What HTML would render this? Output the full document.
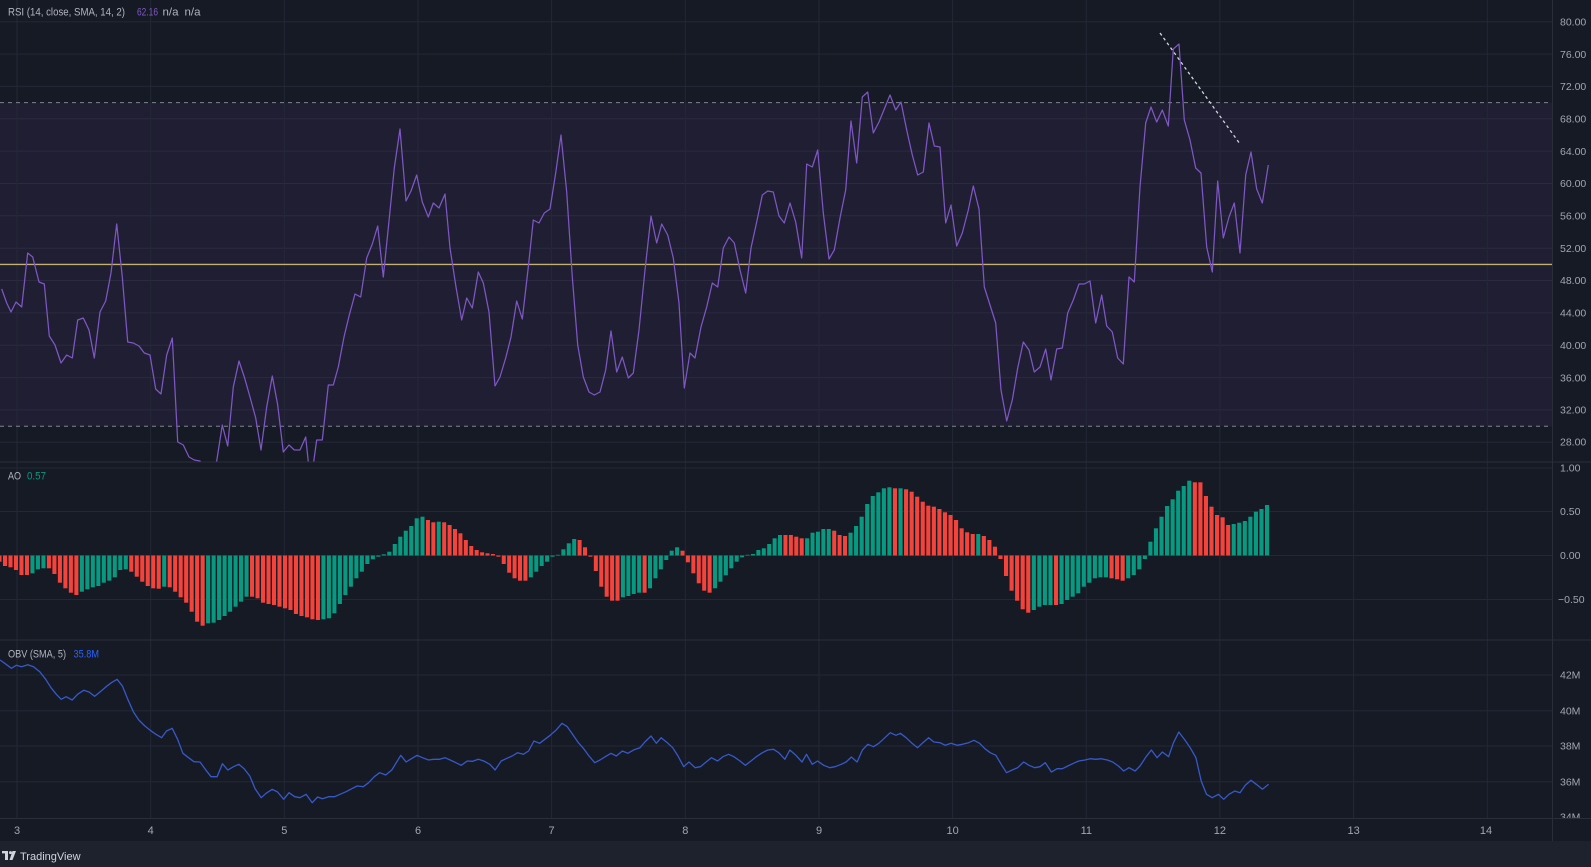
<!DOCTYPE html>
<html>
<head>
<meta charset="utf-8">
<style>
  html,body{margin:0;padding:0;background:#161a25;}
  svg{display:block;}
  .t{font-family:"Liberation Sans",sans-serif;}
  .r{fill:#f4433a;}
  .g{fill:#089981;}
</style>
</head>
<body>
<svg width="1591" height="867" viewBox="0 0 1591 867" xmlns="http://www.w3.org/2000/svg">
  <defs>
    <clipPath id="rsiClip"><rect x="0" y="0" width="1552" height="462"/></clipPath>
    <clipPath id="obvAx"><rect x="1552" y="640" width="39" height="178"/></clipPath>
  </defs>
  <!-- background -->
  <rect x="0" y="0" width="1591" height="867" fill="#161a25"/>
  <!-- RSI band -->
  <rect x="0" y="102.6" width="1552" height="323.7" fill="#201e33"/>

  <!-- horizontal grid RSI -->
  <g stroke="#242836" stroke-width="1">
    <line x1="0" y1="21.7" x2="1552" y2="21.7"/>
    <line x1="0" y1="54.1" x2="1552" y2="54.1"/>
    <line x1="0" y1="86.4" x2="1552" y2="86.4"/>
    <line x1="0" y1="118.8" x2="1552" y2="118.8" stroke="#2b2a40"/>
    <line x1="0" y1="151.1" x2="1552" y2="151.1" stroke="#2b2a40"/>
    <line x1="0" y1="183.5" x2="1552" y2="183.5" stroke="#2b2a40"/>
    <line x1="0" y1="215.8" x2="1552" y2="215.8" stroke="#2b2a40"/>
    <line x1="0" y1="248.2" x2="1552" y2="248.2" stroke="#2b2a40"/>
    <line x1="0" y1="280.5" x2="1552" y2="280.5" stroke="#2b2a40"/>
    <line x1="0" y1="312.9" x2="1552" y2="312.9" stroke="#2b2a40"/>
    <line x1="0" y1="345.2" x2="1552" y2="345.2" stroke="#2b2a40"/>
    <line x1="0" y1="377.6" x2="1552" y2="377.6" stroke="#2b2a40"/>
    <line x1="0" y1="409.9" x2="1552" y2="409.9" stroke="#2b2a40"/>
    <line x1="0" y1="442.3" x2="1552" y2="442.3"/>
    <!-- AO grid -->
    <line x1="0" y1="468" x2="1552" y2="468"/>
    <line x1="0" y1="511.5" x2="1552" y2="511.5"/>
    <line x1="0" y1="555.5" x2="1552" y2="555.5"/>
    <line x1="0" y1="599.5" x2="1552" y2="599.5"/>
    <!-- OBV grid -->
    <line x1="0" y1="675" x2="1552" y2="675"/>
    <line x1="0" y1="710.7" x2="1552" y2="710.7"/>
    <line x1="0" y1="746" x2="1552" y2="746"/>
    <line x1="0" y1="781.7" x2="1552" y2="781.7"/>
  </g>
  <!-- vertical grid -->
  <g stroke="#242836" stroke-width="1">
    <line x1="17" y1="0" x2="17" y2="818"/>
    <line x1="150.7" y1="0" x2="150.7" y2="818"/>
    <line x1="284.3" y1="0" x2="284.3" y2="818"/>
    <line x1="418" y1="0" x2="418" y2="818"/>
    <line x1="551.6" y1="0" x2="551.6" y2="818"/>
    <line x1="685.3" y1="0" x2="685.3" y2="818"/>
    <line x1="819" y1="0" x2="819" y2="818"/>
    <line x1="952.6" y1="0" x2="952.6" y2="818"/>
    <line x1="1086.3" y1="0" x2="1086.3" y2="818"/>
    <line x1="1219.9" y1="0" x2="1219.9" y2="818"/>
    <line x1="1353.6" y1="0" x2="1353.6" y2="818"/>
    <line x1="1487.3" y1="0" x2="1487.3" y2="818"/>
  </g>

  <!-- RSI levels -->
  <line x1="0" y1="102.6" x2="1552" y2="102.6" stroke="#80838f" stroke-width="1" stroke-dasharray="4,4"/>
  <line x1="0" y1="426.3" x2="1552" y2="426.3" stroke="#80838f" stroke-width="1" stroke-dasharray="4,4"/>
  <line x1="0" y1="264.4" x2="1552" y2="264.4" stroke="#c2b173" stroke-width="1.4"/>

  <!-- RSI line -->
  <g clip-path="url(#rsiClip)">
  <polyline fill="none" stroke="#7e57c2" stroke-width="1.25" stroke-linejoin="round" points="
  1.7,289 6.7,303 11,312 16,302 21.7,307 27.7,253 32.7,257 39,282 44.3,284 49.3,336 55,345 61,363 66.7,355 72.3,358 77.7,320 83.3,318 89,330 94.3,358 100,312 105.7,301 111,273 116.7,224 122.3,277 127.7,342 133.3,343 139,346 144.3,353 150,355 155.7,389 161,394 166.7,355 172.3,338 177.7,442 183.3,445 189,457 194.3,460 200,461 205,472 211,474 216.7,461 222.3,425 227.7,446 233.3,387 239,361 244.3,377 250,397 255.7,418 261,450 266.7,407 272.3,376 277.7,405 283.3,452 289,445 294.3,450 300,450 305.7,437 308.3,462 312,474 316.7,440 322.3,440 328.3,385 333.3,385 338.3,367 344,337 349.3,315 355,294 360.7,297 366.7,258 372.3,244 377.7,226 383.3,277 389,221 394.3,168 400,129 406,201 411,191 416.7,175 422.3,202 428.3,217 433.3,203 439,208 445,194 450,248 456,287 461.7,320 466.7,298 472.3,308 478.3,272 483.3,283 489,312 495,386 500,377 505.7,358 511,337 516.7,301 522.3,319 528.3,267 533.3,220 539,223 544.3,213 550,209 555.7,173 561,135 566.7,192 572.3,277 577.7,345 583.3,377 589,392 594.3,395 600,392 605.7,370 611,331 616.7,372 622.3,357 628.3,378 633.3,373 639,330 645,270 651,216 656.7,243 661.7,224 667.7,235 673.3,258 679,303 684.3,388 690,353 695,358 701,327 706.7,307 712.3,283 717.7,287 723.3,248 729,237 734.3,243 740,270 745.7,293 751,248 756.7,222 762.3,195 767.7,191 773.3,192 779,216 784.3,223 790,203 795.7,222 801.7,258 806.7,164 812.3,167 817.7,150 823.3,213 829,259 834.3,250 840,218 845.7,190 851,121 856.7,163 862.3,97 867.7,92 873.3,133 879,122 884.3,109 890,95 895.7,110 901,102 906.7,130 912.3,155 917.7,175 923.3,172 929,123 934.3,146 940,147 945.7,223 951,205 956.7,246 962.3,233 968.3,210 973.3,186 979,209 984.3,287 990,305 995.7,323 1001,390 1006.7,421 1012.3,400 1017.7,368 1023.3,342 1029,350 1034.3,372 1040,367 1045.7,349 1051,380 1056.7,349 1062.3,348 1067.7,313 1073.3,300 1079,284 1084.3,284 1090,281 1095.7,323 1101.7,295 1106.7,326 1112.3,332 1117.7,358 1123.3,364 1129,277 1134.3,282 1140,187 1145.7,123 1151,107 1156.7,122 1162.3,110 1168.3,126 1173.3,49 1179,44 1184.3,120 1190,140 1195.7,168 1201,173 1206.7,247 1212.3,272 1217.7,181 1223.3,238 1229,217 1234.3,203 1240,253 1245.7,175 1251,152 1256.7,189 1262.3,203 1268.3,165"/>
  </g>
  <!-- trendline -->
  <line x1="1160" y1="33" x2="1240" y2="144" stroke="#d1d4dc" stroke-width="1.3" stroke-dasharray="3,3"/>

  <!-- AO bars segment A -->
  <g transform="translate(2.97,0) scale(5.49,1)">
    <rect class="r" x="-1" y="555.5" width="0.74" height="6.2"/>
    <rect class="r" x="0" y="555.5" width="0.74" height="10.5"/>
    <rect class="r" x="1" y="555.5" width="0.74" height="11.8"/>
    <rect class="r" x="2" y="555.5" width="0.74" height="14.5"/>
    <rect class="r" x="3" y="555.5" width="0.74" height="19.5"/>
    <rect class="r" x="4" y="555.5" width="0.74" height="19.5"/>
    <rect class="g" x="5" y="555.5" width="0.74" height="17.8"/>
    <rect class="g" x="6" y="555.5" width="0.74" height="13.8"/>
    <rect class="g" x="7" y="555.5" width="0.74" height="12.8"/>
    <rect class="r" x="8" y="555.5" width="0.74" height="12.8"/>
    <rect class="r" x="9" y="555.5" width="0.74" height="18.5"/>
    <rect class="r" x="10" y="555.5" width="0.74" height="27.2"/>
    <rect class="r" x="11" y="555.5" width="0.74" height="32.8"/>
    <rect class="r" x="12" y="555.5" width="0.74" height="37.2"/>
    <rect class="r" x="13" y="555.5" width="0.74" height="39.5"/>
    <rect class="g" x="14" y="555.5" width="0.74" height="36.2"/>
    <rect class="g" x="15" y="555.5" width="0.74" height="33.8"/>
    <rect class="g" x="16" y="555.5" width="0.74" height="31.8"/>
    <rect class="g" x="17" y="555.5" width="0.74" height="30.5"/>
    <rect class="g" x="18" y="555.5" width="0.74" height="27.2"/>
    <rect class="g" x="19" y="555.5" width="0.74" height="25.2"/>
    <rect class="g" x="20" y="555.5" width="0.74" height="21.8"/>
    <rect class="g" x="21" y="555.5" width="0.74" height="14.5"/>
    <rect class="g" x="22" y="555.5" width="0.74" height="13.8"/>
    <rect class="r" x="23" y="555.5" width="0.74" height="16.2"/>
    <rect class="r" x="24" y="555.5" width="0.74" height="21.2"/>
    <rect class="r" x="25" y="555.5" width="0.74" height="26.2"/>
    <rect class="r" x="26" y="555.5" width="0.74" height="30.5"/>
    <rect class="r" x="27" y="555.5" width="0.74" height="32.8"/>
    <rect class="r" x="28" y="555.5" width="0.74" height="33.2"/>
    <rect class="g" x="29" y="555.5" width="0.74" height="31.2"/>
    <rect class="r" x="30" y="555.5" width="0.74" height="31.8"/>
    <rect class="r" x="31" y="555.5" width="0.74" height="36.2"/>
    <rect class="r" x="32" y="555.5" width="0.74" height="41.8"/>
    <rect class="r" x="33" y="555.5" width="0.74" height="47.2"/>
    <rect class="r" x="34" y="555.5" width="0.74" height="56.2"/>
    <rect class="r" x="35" y="555.5" width="0.74" height="66.2"/>
    <rect class="r" x="36" y="555.5" width="0.74" height="70.2"/>
    <rect class="g" x="37" y="555.5" width="0.74" height="67.8"/>
    <rect class="g" x="38" y="555.5" width="0.74" height="67.2"/>
    <rect class="g" x="39" y="555.5" width="0.74" height="64.5"/>
    <rect class="g" x="40" y="555.5" width="0.74" height="60.5"/>
    <rect class="g" x="41" y="555.5" width="0.74" height="56.2"/>
    <rect class="g" x="42" y="555.5" width="0.74" height="51.2"/>
    <rect class="g" x="43" y="555.5" width="0.74" height="46.2"/>
    <rect class="g" x="44" y="555.5" width="0.74" height="41.2"/>
    <rect class="r" x="45" y="555.5" width="0.74" height="41.2"/>
    <rect class="r" x="46" y="555.5" width="0.74" height="42.8"/>
    <rect class="r" x="47" y="555.5" width="0.74" height="47.2"/>
    <rect class="r" x="48" y="555.5" width="0.74" height="48.5"/>
    <rect class="r" x="49" y="555.5" width="0.74" height="49.5"/>
    <rect class="r" x="50" y="555.5" width="0.74" height="51.2"/>
    <rect class="r" x="51" y="555.5" width="0.74" height="52.8"/>
    <rect class="r" x="52" y="555.5" width="0.74" height="54.5"/>
    <rect class="r" x="53" y="555.5" width="0.74" height="58.5"/>
    <rect class="r" x="54" y="555.5" width="0.74" height="60.5"/>
    <rect class="r" x="55" y="555.5" width="0.74" height="61.8"/>
    <rect class="r" x="56" y="555.5" width="0.74" height="63.8"/>
    <rect class="r" x="57" y="555.5" width="0.74" height="64.5"/>
    <rect class="g" x="58" y="555.5" width="0.74" height="63.8"/>
    <rect class="g" x="59" y="555.5" width="0.74" height="62.8"/>
    <rect class="g" x="60" y="555.5" width="0.74" height="57.8"/>
    <rect class="g" x="61" y="555.5" width="0.74" height="48.5"/>
    <rect class="g" x="62" y="555.5" width="0.74" height="39.5"/>
    <rect class="g" x="63" y="555.5" width="0.74" height="31.2"/>
    <rect class="g" x="64" y="555.5" width="0.74" height="22.8"/>
    <rect class="g" x="65" y="555.5" width="0.74" height="16.2"/>
    <rect class="g" x="66" y="555.5" width="0.74" height="8.5"/>
    <rect class="g" x="67" y="555.5" width="0.74" height="3.8"/>
    <rect class="g" x="68" y="555.5" width="0.74" height="1.2"/>
    <rect class="g" x="69" y="554.3" width="0.74" height="1.2"/>
    <rect class="g" x="70" y="551.7" width="0.74" height="3.8"/>
    <rect class="g" x="71" y="544" width="0.74" height="11.5"/>
    <rect class="g" x="72" y="536.7" width="0.74" height="18.8"/>
    <rect class="g" x="73" y="530.7" width="0.74" height="24.8"/>
    <rect class="g" x="74" y="526" width="0.74" height="29.5"/>
    <rect class="g" x="75" y="518.3" width="0.74" height="37.2"/>
  </g>
  <!-- AO bars segment B -->
  <g transform="translate(420.5,0) scale(5.417,1)">
    <rect class="g" x="0" y="516.7" width="0.74" height="38.8"/>
    <rect class="r" x="1" y="520" width="0.74" height="35.5"/>
    <rect class="r" x="2" y="522.3" width="0.74" height="33.2"/>
    <rect class="g" x="3" y="521.7" width="0.74" height="33.8"/>
    <rect class="r" x="4" y="522.3" width="0.74" height="33.2"/>
    <rect class="r" x="5" y="525" width="0.74" height="30.5"/>
    <rect class="r" x="6" y="529" width="0.74" height="26.5"/>
    <rect class="r" x="7" y="533.3" width="0.74" height="22.2"/>
    <rect class="r" x="8" y="540" width="0.74" height="15.5"/>
    <rect class="r" x="9" y="546" width="0.74" height="9.5"/>
    <rect class="r" x="10" y="550" width="0.74" height="5.5"/>
    <rect class="r" x="11" y="552.3" width="0.74" height="3.2"/>
    <rect class="r" x="12" y="553.3" width="0.74" height="2.2"/>
    <rect class="r" x="13" y="554" width="0.74" height="1.5"/>
    <rect class="r" x="14" y="555.5" width="0.74" height="1.2"/>
    <rect class="r" x="15" y="555.5" width="0.74" height="8.5"/>
    <rect class="r" x="16" y="555.5" width="0.74" height="17.2"/>
    <rect class="r" x="17" y="555.5" width="0.74" height="22.8"/>
    <rect class="r" x="18" y="555.5" width="0.74" height="25.2"/>
    <rect class="r" x="19" y="555.5" width="0.74" height="25.2"/>
    <rect class="g" x="20" y="555.5" width="0.74" height="21.8"/>
    <rect class="g" x="21" y="555.5" width="0.74" height="16.2"/>
    <rect class="g" x="22" y="555.5" width="0.74" height="10.5"/>
    <rect class="g" x="23" y="555.5" width="0.74" height="6.2"/>
    <rect class="g" x="24" y="555.5" width="0.74" height="1.2"/>
    <rect class="g" x="25" y="554.8" width="0.74" height="0.7"/>
    <rect class="g" x="26" y="549.3" width="0.74" height="6.2"/>
    <rect class="g" x="27" y="543.3" width="0.74" height="12.2"/>
    <rect class="g" x="28" y="539" width="0.74" height="16.5"/>
    <rect class="r" x="29" y="540" width="0.74" height="15.5"/>
    <rect class="r" x="30" y="547.3" width="0.74" height="8.2"/>
    <rect class="r" x="31" y="555.5" width="0.74" height="1.2"/>
    <rect class="r" x="32" y="555.5" width="0.74" height="15.5"/>
    <rect class="r" x="33" y="555.5" width="0.74" height="31.2"/>
    <rect class="r" x="34" y="555.5" width="0.74" height="41.2"/>
    <rect class="r" x="35" y="555.5" width="0.74" height="45.2"/>
    <rect class="r" x="36" y="555.5" width="0.74" height="45.2"/>
    <rect class="g" x="37" y="555.5" width="0.74" height="41.8"/>
    <rect class="g" x="38" y="555.5" width="0.74" height="40.5"/>
    <rect class="g" x="39" y="555.5" width="0.74" height="38.5"/>
    <rect class="g" x="40" y="555.5" width="0.74" height="37.2"/>
    <rect class="r" x="41" y="555.5" width="0.74" height="37.2"/>
    <rect class="g" x="42" y="555.5" width="0.74" height="32.8"/>
    <rect class="g" x="43" y="555.5" width="0.74" height="22.8"/>
    <rect class="g" x="44" y="555.5" width="0.74" height="13.8"/>
    <rect class="g" x="45" y="555.5" width="0.74" height="4.5"/>
    <rect class="g" x="46" y="550.7" width="0.74" height="4.8"/>
    <rect class="g" x="47" y="547.3" width="0.74" height="8.2"/>
    <rect class="r" x="48" y="550.7" width="0.74" height="4.8"/>
    <rect class="r" x="49" y="555.5" width="0.74" height="6.8"/>
    <rect class="r" x="50" y="555.5" width="0.74" height="17.8"/>
    <rect class="r" x="51" y="555.5" width="0.74" height="27.8"/>
    <rect class="r" x="52" y="555.5" width="0.74" height="35.2"/>
    <rect class="r" x="53" y="555.5" width="0.74" height="37.2"/>
    <rect class="g" x="54" y="555.5" width="0.74" height="32.8"/>
    <rect class="g" x="55" y="555.5" width="0.74" height="26.2"/>
    <rect class="g" x="56" y="555.5" width="0.74" height="19.8"/>
    <rect class="g" x="57" y="555.5" width="0.74" height="12.8"/>
    <rect class="g" x="58" y="555.5" width="0.74" height="6.2"/>
    <rect class="g" x="59" y="555.5" width="0.74" height="1.8"/>
    <rect class="g" x="60" y="554.8" width="0.74" height="0.7"/>
    <rect class="g" x="61" y="554" width="0.74" height="1.5"/>
    <rect class="g" x="62" y="550" width="0.74" height="5.5"/>
    <rect class="g" x="63" y="548.3" width="0.74" height="7.2"/>
    <rect class="g" x="64" y="544" width="0.74" height="11.5"/>
    <rect class="g" x="65" y="538.3" width="0.74" height="17.2"/>
    <rect class="g" x="66" y="535" width="0.74" height="20.5"/>
    <rect class="r" x="67" y="535" width="0.74" height="20.5"/>
    <rect class="r" x="68" y="535" width="0.74" height="20.5"/>
    <rect class="r" x="69" y="536.7" width="0.74" height="18.8"/>
    <rect class="r" x="70" y="538.3" width="0.74" height="17.2"/>
    <rect class="g" x="71" y="538.3" width="0.74" height="17.2"/>
    <rect class="g" x="72" y="532.7" width="0.74" height="22.8"/>
    <rect class="g" x="73" y="531.7" width="0.74" height="23.8"/>
    <rect class="g" x="74" y="529" width="0.74" height="26.5"/>
    <rect class="g" x="75" y="529" width="0.74" height="26.5"/>
    <rect class="r" x="76" y="530.7" width="0.74" height="24.8"/>
    <rect class="r" x="77" y="535" width="0.74" height="20.5"/>
    <rect class="r" x="78" y="536" width="0.74" height="19.5"/>
  </g>
  <!-- AO bars segment C -->
  <g transform="translate(842.95,0) scale(5.553,1)">
    <rect class="g" x="1" y="532.7" width="0.74" height="22.8"/>
    <rect class="g" x="2" y="526" width="0.74" height="29.5"/>
    <rect class="g" x="3" y="516.7" width="0.74" height="38.8"/>
    <rect class="g" x="4" y="504" width="0.74" height="51.5"/>
    <rect class="g" x="5" y="496" width="0.74" height="59.5"/>
    <rect class="g" x="6" y="492.3" width="0.74" height="63.2"/>
    <rect class="g" x="7" y="488.3" width="0.74" height="67.2"/>
    <rect class="g" x="8" y="487.3" width="0.74" height="68.2"/>
    <rect class="r" x="9" y="488.3" width="0.74" height="67.2"/>
    <rect class="g" x="10" y="488.3" width="0.74" height="67.2"/>
    <rect class="r" x="11" y="489.3" width="0.74" height="66.2"/>
    <rect class="r" x="12" y="491.7" width="0.74" height="63.8"/>
    <rect class="r" x="13" y="496.7" width="0.74" height="58.8"/>
    <rect class="r" x="14" y="501.7" width="0.74" height="53.8"/>
    <rect class="r" x="15" y="505.7" width="0.74" height="49.8"/>
    <rect class="r" x="16" y="506.7" width="0.74" height="48.8"/>
    <rect class="r" x="17" y="509" width="0.74" height="46.5"/>
    <rect class="r" x="18" y="512.3" width="0.74" height="43.2"/>
    <rect class="r" x="19" y="515" width="0.74" height="40.5"/>
    <rect class="r" x="20" y="520" width="0.74" height="35.5"/>
    <rect class="r" x="21" y="528.3" width="0.74" height="27.2"/>
    <rect class="r" x="22" y="532.3" width="0.74" height="23.2"/>
    <rect class="r" x="23" y="534" width="0.74" height="21.5"/>
    <rect class="g" x="24" y="534" width="0.74" height="21.5"/>
    <rect class="r" x="25" y="536" width="0.74" height="19.5"/>
    <rect class="r" x="26" y="540" width="0.74" height="15.5"/>
    <rect class="r" x="27" y="546.7" width="0.74" height="8.8"/>
    <rect class="r" x="28" y="555.5" width="0.74" height="3.5"/>
    <rect class="r" x="29" y="555.5" width="0.74" height="20.5"/>
    <rect class="r" x="30" y="555.5" width="0.74" height="35.2"/>
    <rect class="r" x="31" y="555.5" width="0.74" height="45.2"/>
    <rect class="r" x="32" y="555.5" width="0.74" height="53.8"/>
    <rect class="r" x="33" y="555.5" width="0.74" height="57.2"/>
    <rect class="g" x="34" y="555.5" width="0.74" height="54.5"/>
    <rect class="g" x="35" y="555.5" width="0.74" height="51.2"/>
    <rect class="g" x="36" y="555.5" width="0.74" height="49.5"/>
    <rect class="g" x="37" y="555.5" width="0.74" height="49.5"/>
    <rect class="r" x="38" y="555.5" width="0.74" height="49.5"/>
    <rect class="g" x="39" y="555.5" width="0.74" height="48.5"/>
    <rect class="g" x="40" y="555.5" width="0.74" height="44.5"/>
    <rect class="g" x="41" y="555.5" width="0.74" height="41.2"/>
    <rect class="g" x="42" y="555.5" width="0.74" height="37.8"/>
    <rect class="g" x="43" y="555.5" width="0.74" height="31.2"/>
    <rect class="g" x="44" y="555.5" width="0.74" height="27.2"/>
    <rect class="g" x="45" y="555.5" width="0.74" height="22.8"/>
    <rect class="g" x="46" y="555.5" width="0.74" height="21.8"/>
    <rect class="g" x="47" y="555.5" width="0.74" height="21.8"/>
    <rect class="r" x="48" y="555.5" width="0.74" height="22.8"/>
    <rect class="r" x="49" y="555.5" width="0.74" height="23.8"/>
    <rect class="r" x="50" y="555.5" width="0.74" height="25.2"/>
    <rect class="g" x="51" y="555.5" width="0.74" height="22.8"/>
    <rect class="g" x="52" y="555.5" width="0.74" height="19.5"/>
    <rect class="g" x="53" y="555.5" width="0.74" height="13.8"/>
    <rect class="g" x="54" y="555.5" width="0.74" height="3.5"/>
    <rect class="g" x="55" y="541.7" width="0.74" height="13.8"/>
    <rect class="g" x="56" y="528.3" width="0.74" height="27.2"/>
    <rect class="g" x="57" y="516.7" width="0.74" height="38.8"/>
    <rect class="g" x="58" y="506" width="0.74" height="49.5"/>
    <rect class="g" x="59" y="499.3" width="0.74" height="56.2"/>
    <rect class="g" x="60" y="490.7" width="0.74" height="64.8"/>
    <rect class="g" x="61" y="486" width="0.74" height="69.5"/>
    <rect class="g" x="62" y="480.7" width="0.74" height="74.8"/>
    <rect class="r" x="63" y="482.3" width="0.74" height="73.2"/>
    <rect class="r" x="64" y="482.3" width="0.74" height="73.2"/>
    <rect class="r" x="65" y="496" width="0.74" height="59.5"/>
    <rect class="r" x="66" y="506.7" width="0.74" height="48.8"/>
    <rect class="r" x="67" y="515" width="0.74" height="40.5"/>
    <rect class="r" x="68" y="517.3" width="0.74" height="38.2"/>
    <rect class="r" x="69" y="525" width="0.74" height="30.5"/>
    <rect class="g" x="70" y="524" width="0.74" height="31.5"/>
    <rect class="g" x="71" y="522.7" width="0.74" height="32.8"/>
    <rect class="g" x="72" y="521" width="0.74" height="34.5"/>
    <rect class="g" x="73" y="516.7" width="0.74" height="38.8"/>
    <rect class="g" x="74" y="511.7" width="0.74" height="43.8"/>
    <rect class="g" x="75" y="509" width="0.74" height="46.5"/>
    <rect class="g" x="76" y="505" width="0.74" height="50.5"/>
  </g>

  <!-- OBV line -->
  <polyline fill="none" stroke="#3659c9" stroke-width="1.3" stroke-linejoin="round" points="
  0,660 6.1,664.3 11.4,668.3 16.3,665.3 21.6,666.7 27.8,664.7 33.5,666.7 40,672 45.7,679.3 51,687.7 56.3,694.3 61.2,699.3 66.1,696.7 72.2,700 77.6,694.3 83.7,690.3 89,692 94.7,696.3 100,692 106.1,686.7 111.4,682.7 117.1,679.3 122.4,686 127.8,699.3 133.5,712 138.8,720 144.9,726 150.2,730.3 155.9,734.3 161.6,737.7 166.5,731 172.2,728.3 177.6,739.3 182.9,753.3 188.6,757.7 193.9,761.7 200,762 205.3,769.3 211,776.7 217.1,776.7 222.4,763.7 227.8,770 233.5,766.7 238.8,764.3 244.1,768.7 249.8,776 255.1,788.7 261.2,797.7 266.1,793.3 272.2,789.3 277.6,792 283.7,799.3 289,792.7 294.7,796.7 300,797.7 306.1,794.3 312.2,802.7 317.6,797 322.4,798.7 328.6,796.7 334.7,796.7 340,794.3 346.1,791.7 351.8,788.7 357.1,786 363.3,786.7 368.6,782.7 374.3,776.7 379.6,772.7 385.7,775 391.8,770 396.7,762 400.8,755.3 406.1,762 411.4,758.7 417.1,755.3 422.4,757.7 428.6,760 433.5,759.3 439.6,759.3 444.9,757.7 450.2,760 455.9,762.7 461.2,765.3 467.3,761 472.7,761.3 478.4,759.3 483.7,761 489.8,764.3 495.1,770 501.2,761 506.9,758.3 512.2,756 517.6,752.7 523.3,754.3 528.6,751 533.9,741 539.6,743.3 544.9,739.3 550.2,735.3 555.9,730.3 562,723.3 567.3,726.7 572.2,733.7 578.4,742.7 583.7,748.7 589,756 594.7,762.7 600,760 605.3,756.7 611,753.3 616.3,756 622.4,751 627.8,753.3 633.5,750 640,747.7 644.9,742 651,736 656.3,743.3 661.2,737.7 667.3,742.7 672.7,747.7 678,756 683.7,766.7 689,762 695.1,767.7 700.4,766.7 706.1,762 711.4,757.7 717.6,761 722.9,756.7 728.6,754.3 733.9,756.7 740,761 745.3,765.3 751,761 756.3,756.7 762.4,752.7 767.8,750 773.5,749.3 778.8,752.7 784.9,759.3 789.8,750 795.9,755.3 802,762 806.5,754.3 812.2,764.3 817.6,761 823.7,765.3 829.8,767.7 835.1,766.7 841.2,764.3 846.1,762 851.4,757 857.1,762 862.4,750 867.8,744.3 873.5,746.7 878.8,743.3 884.9,737.7 890.2,732.7 895.9,735.3 900.4,733.3 906.1,737.7 911.4,742.7 917.6,747.7 922.9,742.7 928.6,737.7 933.9,742 940,742.7 945.3,745.3 951,743.3 957.1,745.3 962.4,744.3 968.6,742.7 973.9,740.3 979.6,743.3 984.9,748.7 990.2,752.7 995.9,755.3 1001.2,764.3 1006.5,772.7 1012.2,770 1017.6,767.7 1023.7,762 1029,765.3 1034.7,767.7 1040,766.7 1045.3,762.7 1051.4,772 1057.1,768.7 1062.4,768.7 1067.8,766 1073.5,763.3 1078.8,761 1084.9,760 1090.2,758.7 1095.9,759.3 1101.2,758.7 1107.3,760 1112.7,762 1118.4,766 1123.7,771 1129,767.7 1135.1,771 1140,766 1146.1,756.7 1151.4,750 1157.1,757.7 1162.4,752 1168.6,756.7 1173.5,742.7 1178.8,732 1184.9,740 1190.2,747.7 1195.9,757.7 1201.2,781 1206.5,794.3 1212.2,797.7 1218.4,794.3 1223.7,799.3 1229,794.3 1234.7,791 1240,792.7 1245.3,785.3 1251,780.3 1256.3,784.3 1262.4,789.3 1268.6,784.3"/>

  <!-- pane separators -->
  <g stroke="#2a2e39" stroke-width="1">
    <line x1="0" y1="462" x2="1591" y2="462"/>
    <line x1="0" y1="640" x2="1591" y2="640"/>
    <line x1="0" y1="818.5" x2="1591" y2="818.5"/>
    <line x1="1552.5" y1="0" x2="1552.5" y2="841"/>
  </g>
  <!-- footer -->
  <rect x="0" y="841" width="1591" height="26" fill="#1e222d"/>

  <!-- legends -->
  <g class="t" font-size="11">
    <text x="8" y="15.5" fill="#b2b5be" textLength="117" lengthAdjust="spacingAndGlyphs">RSI (14, close, SMA, 14, 2)</text>
    <text x="137" y="15.5" fill="#7e57c2" textLength="21" lengthAdjust="spacingAndGlyphs">62.16</text>
    <text x="162.5" y="15.5" fill="#b2b5be" textLength="16" lengthAdjust="spacingAndGlyphs">n/a</text>
    <text x="184.5" y="15.5" fill="#b2b5be" textLength="16" lengthAdjust="spacingAndGlyphs">n/a</text>
    <text x="8" y="479.5" fill="#b2b5be" textLength="13" lengthAdjust="spacingAndGlyphs">AO</text>
    <text x="27" y="479.5" fill="#089981" textLength="19" lengthAdjust="spacingAndGlyphs">0.57</text>
    <text x="8" y="657.5" fill="#b2b5be" textLength="58" lengthAdjust="spacingAndGlyphs">OBV (SMA, 5)</text>
    <text x="73.5" y="657.5" fill="#2962ff" textLength="25.5" lengthAdjust="spacingAndGlyphs">35.8M</text>
  </g>

  <!-- right axis labels -->
  <g class="t" font-size="10.5" fill="#a3a6af">
    <text x="1560" y="25.4">80.00</text>
    <text x="1560" y="57.8">76.00</text>
    <text x="1560" y="90.1">72.00</text>
    <text x="1560" y="122.5">68.00</text>
    <text x="1560" y="154.8">64.00</text>
    <text x="1560" y="187.2">60.00</text>
    <text x="1560" y="219.5">56.00</text>
    <text x="1560" y="251.9">52.00</text>
    <text x="1560" y="284.2">48.00</text>
    <text x="1560" y="316.6">44.00</text>
    <text x="1560" y="348.9">40.00</text>
    <text x="1560" y="381.3">36.00</text>
    <text x="1560" y="413.6">32.00</text>
    <text x="1560" y="445.5">28.00</text>
    <text x="1560" y="471.7">1.00</text>
    <text x="1560" y="515.2">0.50</text>
    <text x="1560" y="559.2">0.00</text>
    <text x="1558" y="603.2">−0.50</text>
    <g clip-path="url(#obvAx)">
      <text x="1560" y="678.7">42M</text>
      <text x="1560" y="714.4">40M</text>
      <text x="1560" y="749.7">38M</text>
      <text x="1560" y="785.4">36M</text>
      <text x="1560" y="820.4">34M</text>
    </g>
  </g>

  <!-- time axis labels -->
  <g class="t" font-size="11" fill="#a3a6af" text-anchor="middle">
    <text x="17" y="834">3</text>
    <text x="150.7" y="834">4</text>
    <text x="284.3" y="834">5</text>
    <text x="418" y="834">6</text>
    <text x="551.6" y="834">7</text>
    <text x="685.3" y="834">8</text>
    <text x="819" y="834">9</text>
    <text x="952.6" y="834">10</text>
    <text x="1086.3" y="834">11</text>
    <text x="1219.9" y="834">12</text>
    <text x="1353.6" y="834">13</text>
    <text x="1486" y="834">14</text>
  </g>

  <!-- TradingView logo -->
  <g fill="#d1d4dc">
    <rect x="2" y="851" width="6" height="2.4"/>
    <rect x="5" y="851" width="3" height="9"/>
    <circle cx="10.5" cy="852.6" r="1.5"/>
    <polygon points="12.5,851 16,851 12.5,860 9.5,860"/>
  </g>
  <text class="t" x="20" y="860" font-size="11" fill="#d1d4dc">TradingView</text>
</svg>
</body>
</html>
